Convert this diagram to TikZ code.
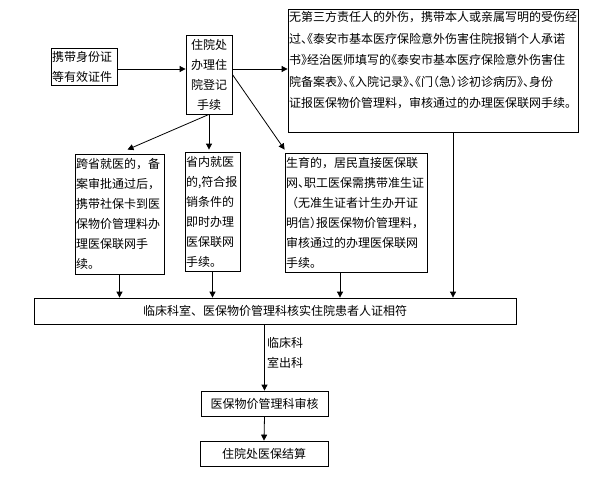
\documentclass[tikz,border=0pt]{standalone}
\usepackage{fontspec}
\newfontfamily\cjk{Noto Sans CJK SC}
\newfontfamily\cjkh[RawFeature=+halt]{Noto Sans CJK SC}
\usetikzlibrary{arrows.meta}

\begin{document}
\begin{tikzpicture}[x=1pt,y=-1pt,
  box/.style={draw,line width=0.8pt,inner sep=1pt,align=left,
    font=\cjk\fontsize{12}{20}\selectfont},
  lab/.style={inner sep=1pt,align=left,font=\cjk\fontsize{12}{20}\selectfont},
  arr/.style={line width=0.8pt,-{Triangle[length=6pt,width=6pt]}}]
\useasboundingbox (0,0) rectangle (596,480);
% top row
\node[box,text width=64,minimum height=37] (card) at (84,66.5) {携带身份证\\等有效证件};
\node[box,text width=44,minimum height=79,align=center] (reg) at (209,74.5) {住院处\\办理住\\院登记\\手续};
\node[box,text width=288,minimum height=123,font=\cjk\fontsize{12}{21.5}\selectfont] (injury) at (433,70.5)
  {无第三方责任人的外伤，携带本人或亲属写明的受伤经\\
   过{\cjkh 、《}泰安市基本医疗保险意外伤害住院报销个人承诺\\
   书{\cjkh 》}经治医师填写的{\cjkh 《}泰安市基本医疗保险意外伤害住\\
   院备案表{\cjkh 》、《}入院记录{\cjkh 》、《}门{\cjkh （}急{\cjkh ）}诊初诊病历{\cjkh 》、}身份\\
   证报医保物价管理料，审核通过的办理医保联网手续。\\ ~};
% middle row
\node[box,text width=87,minimum height=120] (other) at (119.5,214)
  {跨省就医的，备\\案审批通过后，\\携带社保卡到医\\保物价管理料办\\理医保联网手\\续。};
\node[box,text width=53,minimum height=119] (local) at (212.5,211.5)
  {省内就医\\的,符合报\\销条件的\\即时办理\\医保联网\\手续。};
\node[box,text width=140,minimum height=119] (birth) at (356,212.5)
  {生育的，居民直接医保联\\网{\cjkh 、}职工医保需携带准生证\\（无准生证者计生办开证\\明信{\cjkh ）}报医保物价管理料，\\审核通过的办理医保联网\\手续。};
% bottom
\node[box,minimum width=482,minimum height=26,align=center] (check) at (275,311)
  {临床科室、医保物价管理科核实住院患者人证相符};
\node[box,minimum width=127,minimum height=25,align=center] (audit) at (264.5,403.5) {医保物价管理科审核};
\node[box,minimum width=128,minimum height=25,align=center] (settle) at (264,453.5) {住院处医保结算};
\node[lab,anchor=west] (leave) at (266,353) {临床科\\室出科};

\coordinate (h) at ([yshift=-2.5pt]card.east);
\coordinate (c1) at ([xshift=20pt]injury.south);
\coordinate (f1) at ([xshift=-16pt]birth.south);
\draw[arr] (h) -- (h -| reg.west);
\draw[arr] (h -| reg.east) -- (h -| injury.west);
\draw[arr] (reg.south) -- ([xshift=8pt,yshift=4pt]other.north);
\draw[arr] (reg.south) -- ([yshift=2pt]reg.south |- local.north);
\draw[arr] (reg.east) -- ([yshift=3pt]birth.north west);
\draw[arr] (other.south) -- (other.south |- check.north);
\draw[arr] (local.south) -- (local.south |- check.north);
\draw[arr] (f1) -- (f1 |- check.north);
\draw[arr] (c1) -- (c1 |- check.north);
\draw[arr] (audit.north |- check.south) -- (audit.north);
\draw[arr] (audit.south) -- (settle.north);
\end{tikzpicture}
\end{document}
